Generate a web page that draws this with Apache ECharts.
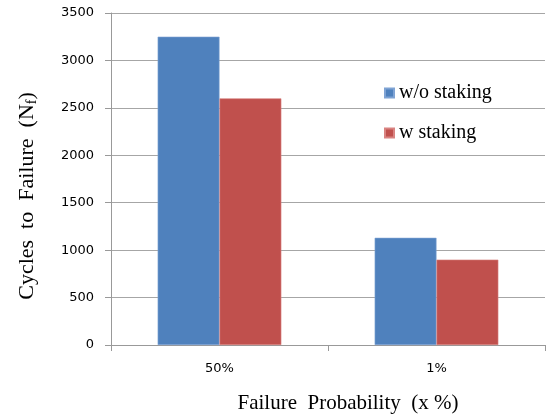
<!DOCTYPE html>
<html><head><meta charset="utf-8">
<script src="https://cdn.jsdelivr.net/npm/echarts@6/dist/echarts.min.js"></script>
<style>html,body{margin:0;padding:0;background:#fff}#c{width:548px;height:414px}</style>
</head><body><div id="c"></div>
<script>
const categories = ['50%', '1%'];
const seriesNames = ['w/o staking', 'w staking'];
const woStaking = [3250, 1130];
const wStaking = [2600, 900];
const colors = ['#4F81BD', '#C0504D'];

const serif = 'Liberation Serif';
const chart = echarts.init(document.getElementById('c'));
chart.setOption({
  animation: false,
  grid: {left: 111, right: 3, top: 13, bottom: 69, containLabel: false, outerBoundsMode: 'none'},
  legend: {
    orient: 'vertical', left: 379, top: 78, itemGap: 20,
    itemWidth: 9, itemHeight: 9, icon: 'rect',
    textStyle: {fontFamily: serif, fontSize: 20, color: '#000'},
    data: seriesNames
  },
  graphic: [{
    type: 'text', x: 27, y: 196, rotation: Math.PI / 2, origin: [0, 0],
    style: {
      text: '{a|Cycles  to  Failure  (N}{s|f}{a|)}',
      align: 'center', verticalAlign: 'middle',
      rich: {
        a: {fontFamily: serif, fontSize: 22, fill: '#000'},
        s: {fontFamily: serif, fontSize: 14, fill: '#000', padding: [10, 0, 0, 0]}
      }
    }
  }],
  xAxis: {
    type: 'category', data: categories,
    name: 'Failure  Probability  (x %)', nameLocation: 'middle', nameGap: 48,
    nameTextStyle: {fontFamily: serif, fontSize: 21, color: '#000', padding: [0, 0, 0, 40]},
    axisLine: {lineStyle: {color: '#999'}},
    axisTick: {show: true, length: 6, lineStyle: {color: '#999'}},
    axisLabel: {fontFamily: 'DejaVu Sans', fontSize: 13, color: '#000', margin: 17}
  },
  yAxis: {
    type: 'value', min: 0, max: 3500, interval: 500,
    axisLine: {show: true, lineStyle: {color: '#999'}},
    axisTick: {show: true, length: 6, lineStyle: {color: '#999'}},
    splitLine: {lineStyle: {color: '#a6a6a6'}},
    axisLabel: {fontFamily: 'DejaVu Sans', fontSize: 13, color: '#000', margin: 17,
      formatter: v => String(v)}
  },
  series: [
    {name: seriesNames[0], type: 'bar', data: woStaking, barGap: '0%', barCategoryGap: '43%',
     itemStyle: {color: colors[0], borderColor: '#7fa3d4', borderWidth: 0.6}},
    {name: seriesNames[1], type: 'bar', data: wStaking, barGap: '0%', barCategoryGap: '43%',
     itemStyle: {color: colors[1], borderColor: '#d98381', borderWidth: 0.6}}
  ]
});
</script></body></html>
